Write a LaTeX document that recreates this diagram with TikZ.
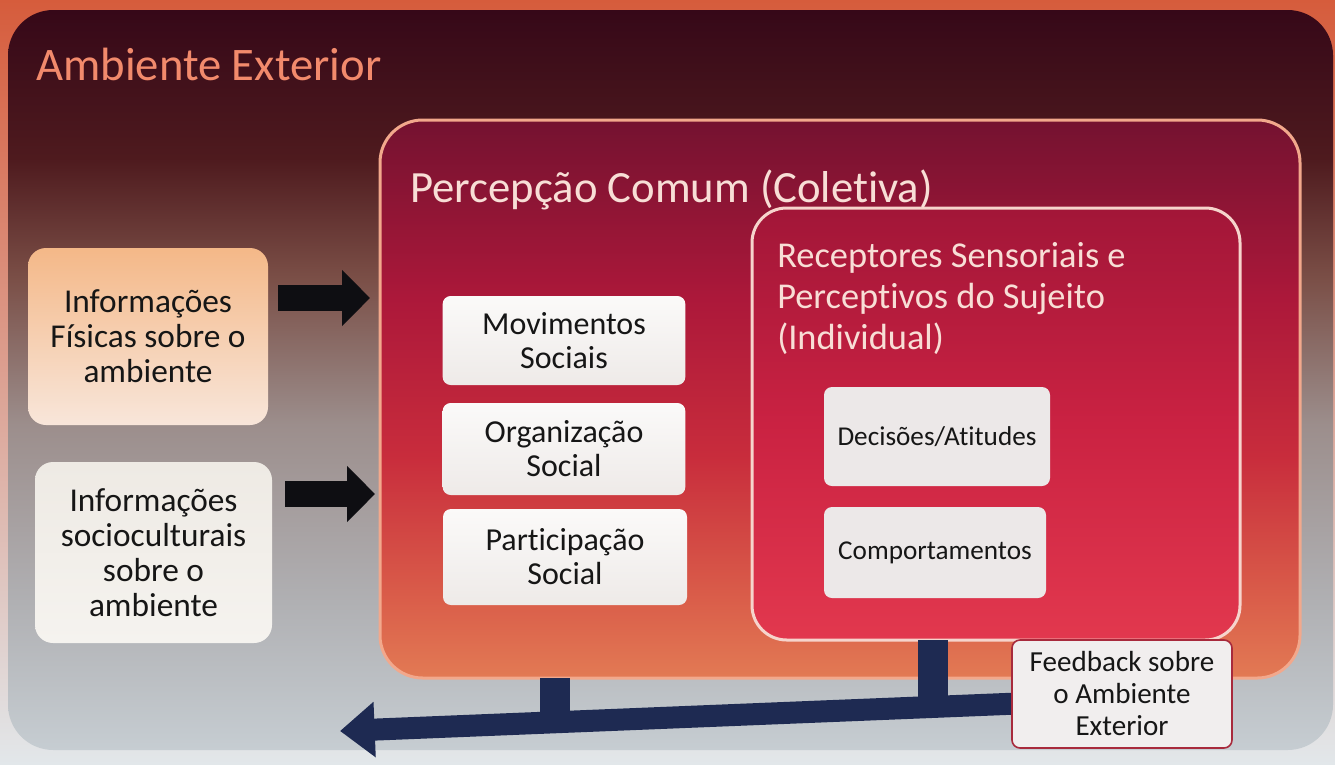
\documentclass[tikz,border=0pt]{standalone}
\usepackage{fontspec}
\setmainfont{Carlito}[Ligatures=NoCommon]
\usetikzlibrary{arrows.meta}

% colours
\definecolor{outtop}{HTML}{D65C3C}
\definecolor{outbot}{HTML}{E2E7EA}
\definecolor{sl1}{HTML}{C6CDD2}
\definecolor{sl2}{HTML}{B0B0B3}
\definecolor{sl3}{HTML}{9C8E8C}
\definecolor{sl4}{HTML}{7A4E46}
\definecolor{sl5}{HTML}{4E1A1E}
\definecolor{sl6}{HTML}{360818}
\definecolor{pc1}{HTML}{E27A54}
\definecolor{pc2}{HTML}{DA5E4A}
\definecolor{pc3}{HTML}{C82C3C}
\definecolor{pc4}{HTML}{AC183A}
\definecolor{pc5}{HTML}{741230}
\definecolor{rc1}{HTML}{E2384E}
\definecolor{rc2}{HTML}{CA2242}
\definecolor{rc3}{HTML}{A21638}
\definecolor{pcborder}{HTML}{F2A88C}
\definecolor{rcborder}{HTML}{F6D4CC}
\definecolor{inkc}{HTML}{161616}
\definecolor{ambc}{HTML}{F28A6C}
\definecolor{lighttext}{HTML}{F8DED6}
\definecolor{arrowc}{HTML}{0E0E12}
\definecolor{navyc}{HTML}{1E2A52}
\definecolor{fbborder}{HTML}{A82A3C}
\definecolor{fbfill}{HTML}{F1EEEE}
\definecolor{physTop}{HTML}{F4B888}
\definecolor{physBot}{HTML}{F8E6DA}
\definecolor{socTop}{HTML}{EEEAE4}
\definecolor{socBot}{HTML}{F5F3EF}
\definecolor{whiteTop}{HTML}{FBFAF9}
\definecolor{whiteBot}{HTML}{EEEAE8}
\definecolor{greyfill}{HTML}{ECE8E8}

% background of the slide, bottom to top
\pgfdeclareverticalshading{slideshade}{100bp}{color(0bp)=(sl1); color(25bp)=(sl1); color(35bp)=(sl2); color(47bp)=(sl3); color(57bp)=(sl4); color(65bp)=(sl5); color(75bp)=(sl6); color(100bp)=(sl6)}
% collective perception frame, bottom to top
\pgfdeclareverticalshading{percepshade}{100bp}{color(0bp)=(pc1); color(25bp)=(pc1); color(32bp)=(pc2); color(45bp)=(pc3); color(59bp)=(pc4); color(75bp)=(pc5); color(100bp)=(pc5)}
% individual receptors frame, bottom to top
\pgfdeclareverticalshading{recepshade}{100bp}{color(0bp)=(rc1); color(25bp)=(rc1); color(50bp)=(rc2); color(75bp)=(rc3); color(100bp)=(rc3)}

\newcommand{\fsz}[2]{\fontsize{#1}{#2}\selectfont}

\pgfdeclarelayer{bg}
\pgfdeclarelayer{frames}
\pgfdeclarelayer{links}
\pgfsetlayers{bg,frames,links,main}

\begin{document}
\begin{tikzpicture}[x=0.75pt,y=-0.75pt,
  box/.style={rounded corners=6pt, inner sep=0pt, outer sep=0pt, align=center, text=inkc},
  infobox/.style={box, rounded corners=13.5pt, font=\fsz{25}{26.25}},
  whitebox/.style={box, top color=whiteTop, bottom color=whiteBot, minimum width=182pt, font=\fsz{24}{25.5}},
  greybox/.style={box, fill=greyfill, font=\fsz{20.4}{22}},
  blockarrow/.style={draw=arrowc, line width=19.5pt, -{Triangle[length=21pt,width=41pt]}},
  fbarrow/.style={draw=navyc, line width=16.5pt, -{Triangle[length=26pt,width=40pt]}},
  stemline/.style={draw=navyc, line width=22.5pt},
]
\useasboundingbox (0,0) rectangle (1335,764);

% slide background
\begin{pgfonlayer}{bg}
  \shade[top color=outtop, bottom color=outbot] (0,0) rectangle (1335,764);
  \shade[shading=slideshade, rounded corners=34pt] (8,10) rectangle (1333,750);
\end{pgfonlayer}

% nested perception frames
\begin{pgfonlayer}{frames}
  \node[shade, shading=percepshade, draw=pcborder, line width=2.25pt, rounded corners=32pt,
        minimum width=690pt, minimum height=418.5pt, inner sep=0pt, outer sep=0pt]
        (percep) at (840,399) {};
  \node[shade, shading=recepshade, draw=rcborder, line width=2.25pt, rounded corners=26pt,
        minimum width=366pt, minimum height=324pt, inner sep=0pt, outer sep=0pt]
        (recep) at (996,424) {};
\end{pgfonlayer}

% titles
\node[anchor=base west, inner sep=0pt, text=ambc, font=\fsz{35}{40}] (amb) at (36,80) {Ambiente Exterior};
\node[anchor=base west, inner sep=0pt, text=lighttext, font=\fsz{33.5}{38}] (pct) at (410,202) {Percepção Comum (Coletiva)};
\node[anchor=north west, inner sep=0pt, align=left, text=lighttext, font=\fsz{27.3}{30.75}] (rct) at (777,242)
  {Receptores Sensoriais e\\Perceptivos do Sujeito\\(Individual)};

% outside information
\node[infobox, top color=physTop, bottom color=physBot, minimum width=180pt, minimum height=132.75pt]
  (phys) at (148,336.5) {Informações\\Físicas sobre o\\ambiente};
\node[infobox, top color=socTop, bottom color=socBot, minimum width=177.75pt, minimum height=135.75pt]
  (socio) at (153.5,552.5) {Informações\\socioculturais\\sobre o\\ambiente};

% collective items
\node[whitebox, minimum height=66.75pt] (mov) at (564,340.5) {Movimentos\\Sociais};
\node[whitebox, minimum height=69pt] (org) at (564,449) {Organização\\Social};
\node[whitebox, minimum height=72pt, minimum width=183pt] (part) at (565,557) {Participação\\Social};

% individual items
\node[greybox, minimum width=169.5pt, minimum height=74.25pt] (dec) at (937,436.5) {Decisões/Atitudes};
\node[greybox, minimum width=166.5pt, minimum height=68.25pt] (comp) at (935,552.5) {Comportamentos};

% feedback label
\node[box, fill=fbfill, draw=fbborder, line width=1.2pt, minimum width=165pt, minimum height=81pt,
      font=\fsz{21.8}{24}] (fb) at (1122,694) {Feedback sobre\\o Ambiente\\Exterior};

% inputs into the collective perception
\coordinate (ya) at (0,298);
\coordinate (yb) at (0,494);
\draw[blockarrow, shorten <=7.5pt, shorten >=7.5pt] (phys.east |- ya) -- (percep.west |- ya);
\draw[blockarrow, shorten <=9.75pt, shorten >=3.75pt] (socio.east |- yb) -- (percep.west |- yb);

% feedback towards the environment
\coordinate (fbtail) at (1030,703);
\coordinate (fbtip) at (340,731);
\coordinate (lstem) at (555,722.3);
\coordinate (rstem) at (933,706.9);
\begin{pgfonlayer}{links}
  \draw[fbarrow] (fbtail) -- (fbtip);
  \draw[stemline] (percep.south -| lstem) -- (lstem);
  \draw[stemline] (recep.south -| rstem) -- (rstem);
\end{pgfonlayer}
\end{tikzpicture}
\end{document}
